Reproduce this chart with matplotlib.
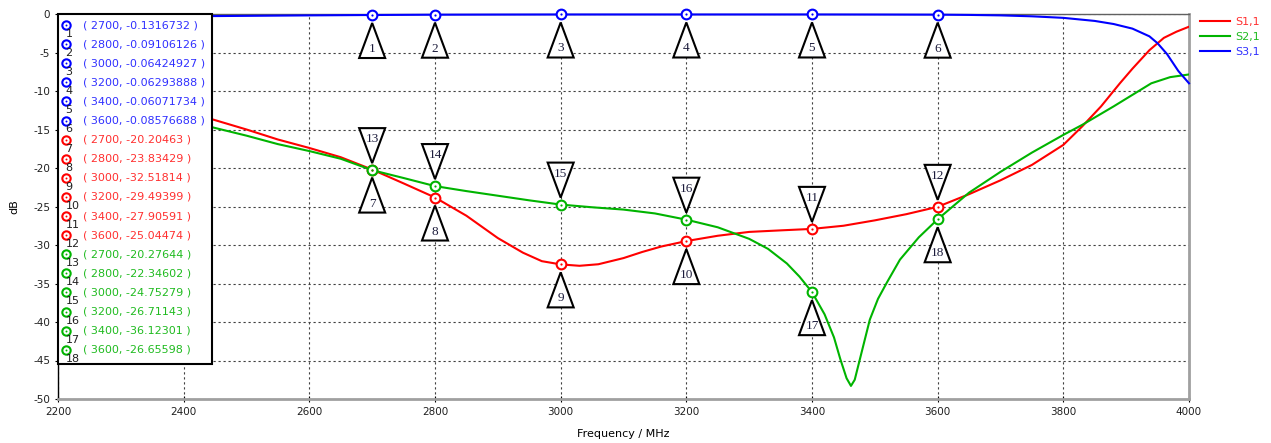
import matplotlib
matplotlib.use('Agg')
import matplotlib.pyplot as plt
from matplotlib.patches import Polygon, Rectangle
import matplotlib.transforms as mtransforms
from matplotlib.lines import Line2D

plt.rcParams['font.family'] = ['DejaVu Sans']
plt.rcParams['axes.unicode_minus'] = False

# ---------------- data ----------------
freq_s11 = [2430, 2500, 2550, 2600, 2650, 2700, 2750, 2800, 2850, 2900, 2940, 2970, 3000, 3030,
            3060, 3100, 3130, 3160, 3200, 3250, 3300, 3350, 3400, 3450, 3500, 3550, 3600, 3650,
            3700, 3750, 3800, 3830, 3860, 3890, 3910, 3937, 3960, 3980, 4000]
s11 = [-13.3, -15.0, -16.3, -17.4, -18.6, -20.2, -22.0, -23.83, -26.2, -29.1, -31.0, -32.1, -32.52, -32.7,
       -32.5, -31.7, -30.9, -30.2, -29.49, -28.8, -28.3, -28.1, -27.91, -27.5, -26.8, -26.0, -25.04, -23.4,
       -21.6, -19.6, -17.0, -14.6, -12.0, -9.0, -7.1, -4.7, -3.1, -2.3, -1.65]

freq_s21 = [2430, 2500, 2550, 2600, 2650, 2700, 2750, 2800, 2850, 2900, 2950, 3000, 3050, 3100, 3150,
            3200, 3250, 3300, 3330, 3360, 3380, 3400, 3420, 3435, 3445, 3455, 3462, 3468, 3476, 3492,
            3505, 3519, 3540, 3570, 3600, 3650, 3700, 3750, 3800, 3830, 3880, 3940, 3970, 4000]
s21 = [-14.4, -15.8, -16.9, -17.8, -18.8, -20.28, -21.3, -22.35, -23.0, -23.6, -24.2, -24.75, -25.1, -25.4, -25.9,
       -26.71, -27.7, -29.2, -30.5, -32.4, -34.1, -36.12, -39.0, -42.0, -44.8, -47.3, -48.3, -47.5, -44.9, -39.7,
       -37.0, -34.9, -31.9, -29.0, -26.66, -23.2, -20.5, -18.0, -15.7, -14.4, -12.0, -9.0, -8.2, -7.85]

freq_s31 = [2430, 2500, 2600, 2700, 2800, 2900, 3000, 3100, 3200, 3300, 3400, 3500, 3600, 3650, 3700,
            3750, 3800, 3850, 3880, 3910, 3937, 3950, 3965, 3983, 4000]
s31 = [-0.28, -0.24, -0.18, -0.13, -0.09, -0.075, -0.064, -0.062, -0.063, -0.062, -0.061, -0.07, -0.086, -0.12, -0.18,
       -0.3, -0.5, -0.9, -1.3, -1.9, -2.9, -3.8, -5.2, -7.4, -9.0]

marker_freq = [2700, 2800, 3000, 3200, 3400, 3600]
m_s31 = [-0.1316732, -0.09106126, -0.06424927, -0.06293888, -0.06071734, -0.08576688]
m_s11 = [-20.20463, -23.83429, -32.51814, -29.49399, -27.90591, -25.04474]
m_s21 = [-20.27644, -22.34602, -24.75279, -26.71143, -36.12301, -26.65598]
# triangle direction per marker number 1..18: 'up' = below the point, 'down' = above
m_dir = ['up'] * 10 + ['down'] * 6 + ['up'] * 2

series_names = ['S1,1', 'S2,1', 'S3,1']
x_ticks = [2200, 2400, 2600, 2800, 3000, 3200, 3400, 3600, 3800, 4000]
y_ticks = [-50, -45, -40, -35, -30, -25, -20, -15, -10, -5, 0]

RED, GREEN, BLUE = '#ff0000', '#00b400', '#0000ff'
RED_T, GREEN_T, BLUE_T = '#ff3030', '#20bb20', '#3030ff'

# ---------------- figure ----------------
W, H = 1271, 443
fig = plt.figure(figsize=(W / 100, H / 100), dpi=100)
L, R, T, B = 58, 1189, 14, 399
ax = fig.add_axes([L / W, 1 - B / H, (R - L) / W, (B - T) / H])
ax.set_xlim(2200, 4000)
ax.set_ylim(-50, 0)
ax.set_xticks(x_ticks)
ax.set_yticks(y_ticks)
ax.set_xticklabels([str(v) for v in x_ticks])
ax.set_yticklabels([str(v) for v in y_ticks])
ax.grid(True, color='#404040', linestyle=(0, (2, 2.5)), lw=0.8)
ax.set_axisbelow(True)
ax.tick_params(direction='inout', length=5, width=0.8, labelsize=7.5, labelcolor='#202020', pad=3)
ax.spines['left'].set_color('black')
ax.spines['left'].set_linewidth(1)
ax.spines['top'].set_color('#606060')
ax.spines['top'].set_linewidth(1)
for s in ('right', 'bottom'):
    ax.spines[s].set_color('#a0a0a0')
    ax.spines[s].set_linewidth(2)
ax.set_xlabel('Frequency / MHz', fontsize=8)
ax.set_ylabel('dB', fontsize=8)
ax.xaxis.set_label_coords(0.5, -0.078)
ax.yaxis.set_label_coords(-0.034, 0.5)

l1, = ax.plot(freq_s11, s11, color=RED, lw=1.5, zorder=3)
l2, = ax.plot(freq_s21, s21, color=GREEN, lw=1.5, zorder=3)
l3, = ax.plot(freq_s31, s31, color=BLUE, lw=1.5, zorder=3, clip_on=False)

leg = ax.legend([l1, l2, l3], series_names, loc='upper left',
                bbox_to_anchor=(1200 / W, 1 - 17 / H), bbox_transform=fig.transFigure,
                frameon=False, fontsize=8, handlelength=2.7, handletextpad=0.5,
                labelspacing=0.45, borderpad=0, borderaxespad=0)
for txt, c in zip(leg.get_texts(), [RED_T, GREEN_T, BLUE_T]):
    txt.set_color(c)

# markers on curves
for vals, c in ((m_s31, BLUE), (m_s11, RED), (m_s21, GREEN)):
    ax.plot(marker_freq, vals, 'o', ms=7, mfc='white', mec=c, mew=1.5, zorder=4, clip_on=False)
    ax.plot(marker_freq, vals, 'o', ms=1.6, mfc=c, mec=c, mew=0, zorder=4.5, clip_on=False)

# triangles with numbers
all_vals = m_s31 + m_s11 + m_s21
all_freqs = marker_freq * 3
for n, (f, v, d) in enumerate(zip(all_freqs, all_vals, m_dir), start=1):
    if d == 'up':
        pts = [(0, -8), (-13, -43), (13, -43)]
        ty = -34
    else:
        pts = [(0, 7), (-13, 42), (13, 42)]
        ty = 31
    trans = mtransforms.Affine2D() + mtransforms.ScaledTranslation(f, v, ax.transData)
    poly = Polygon(pts, closed=True, transform=trans, fc='white', ec='black', lw=1.5,
                   zorder=6, clip_on=False)
    ax.add_patch(poly)
    ax.annotate(str(n), xy=(f, v), xytext=(0, ty), textcoords='offset pixels',
                ha='center', va='center', fontsize=9.5, family='Liberation Serif',
                color='#1c1c3c', zorder=7, annotation_clip=False)

# marker list box
box_l, box_r, box_t, box_b = 58, 212, 14, 364
ax.add_patch(Rectangle((box_l / W, 1 - box_b / H), (box_r - box_l) / W, (box_b - box_t) / H,
                       transform=fig.transFigure, fc='white', ec='black', lw=1.5, zorder=8,
                       clip_on=False))
rows = ([(f, v, BLUE, BLUE_T) for f, v in zip(marker_freq, m_s31)] +
        [(f, v, RED, RED_T) for f, v in zip(marker_freq, m_s11)] +
        [(f, v, GREEN, GREEN_T) for f, v in zip(marker_freq, m_s21)])
for i, (f, v, c, ct) in enumerate(rows):
    y = 25 + i * 19.1
    fy = 1 - y / H
    fig.add_artist(Line2D([66 / W], [fy], marker='o', ms=6, mfc='white', mec=c, mew=1.5,
                          transform=fig.transFigure, zorder=9))
    fig.add_artist(Line2D([66 / W], [fy], marker='o', ms=1.4, mfc=c, mec=c, mew=0,
                          transform=fig.transFigure, zorder=9.5))
    fig.text(65.5 / W, 1 - (y + 9) / H, str(i + 1), fontsize=8, color='#202020',
             ha='left', va='center', zorder=10)
    fig.text(83 / W, fy, f'( {f}, {v} )', fontsize=8, color=ct, ha='left', va='center', zorder=10)

fig.savefig('out.png', dpi=100)
